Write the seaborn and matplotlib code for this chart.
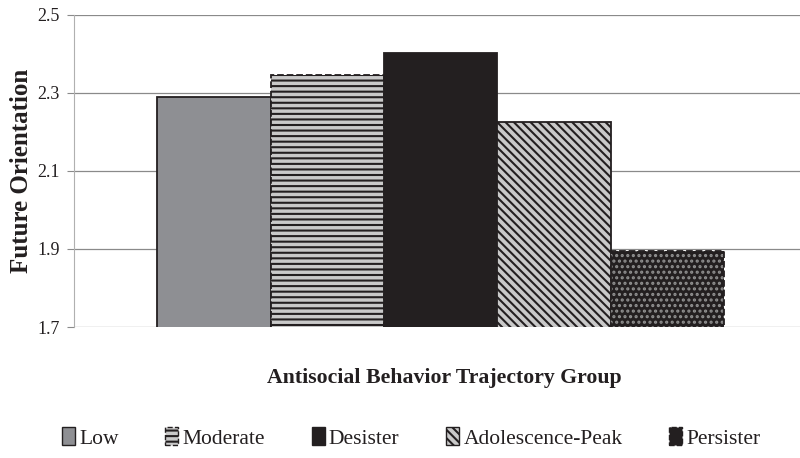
import matplotlib
matplotlib.use("Agg")
import matplotlib.pyplot as plt
import matplotlib.patches as mpatches
import pandas as pd
import seaborn as sns

# values
groups = ["Low", "Moderate", "Desister", "Adolescence-Peak", "Persister"]
scores = [2.29, 2.345, 2.402, 2.226, 1.895]

fills = ["#8e8f93", "#c9c9c9", "#231f20", "#c9c9c9", "#231f20"]
hatches = ["", "---", "", "\\\\\\\\", "..."]
edge_styles = ["-", "--", "-", "-", "--"]

df = pd.DataFrame({"grp": ["all"] * len(groups), "group": groups, "score": scores})

sns.set_style("white")
plt.rcParams["font.family"] = ["Liberation Serif", "DejaVu Serif"]
plt.rcParams["hatch.linewidth"] = 1.5

fig, ax = plt.subplots(figsize=(8, 4.58), dpi=100)
fig.subplots_adjust(left=0.092, right=1.0, top=0.968, bottom=0.286)

sns.barplot(data=df, x="grp", y="score", hue="group", hue_order=groups,
            palette=fills, width=0.78, saturation=1, legend=False, ax=ax)

# style each bar
for p, fc, h, ls in zip(ax.patches, fills, hatches, edge_styles):
    p.set_facecolor(fc)
    p.set_edgecolor("#231f20")
    p.set_linewidth(1.3)
    p.set_linestyle(ls)
    p.set_zorder(3)
    if h:
        p.set_hatch(h)

# persister: light dots on dark fill, dashed outline drawn on top
persister = ax.patches[4]
persister.set_edgecolor("#909090")
persister.set_linestyle("-")
persister.set_linewidth(0)
outline = mpatches.Rectangle(persister.get_xy(), persister.get_width(),
                             persister.get_height(), fill=False,
                             edgecolor="#231f20", linestyle="--", lw=1.3, zorder=4)
ax.add_patch(outline)

ax.set_ylim(1.7, 2.5)
ax.set_xlim(-0.5055, 0.4945)
ax.set_yticks([1.7, 1.9, 2.1, 2.3, 2.5])
ax.set_yticklabels(["1.7", "1.9", "2.1", "2.3", "2.5"], fontsize=13, color="#231f20")
ax.set_xticks([])
ax.yaxis.grid(True, color="#8a8a8a", lw=0.9)
ax.set_axisbelow(True)
for s in ["top", "right", "bottom"]:
    ax.spines[s].set_visible(False)
ax.spines["left"].set_color("#b0b0b0")
ax.tick_params(axis="y", length=5, color="#8a8a8a", left=True, pad=5)

ax.set_ylabel("Future Orientation", fontsize=18, fontweight="bold",
              color="#231f20", labelpad=3)
ax.set_xlabel("Antisocial Behavior Trajectory Group", fontsize=15.7,
              fontweight="bold", color="#231f20")
ax.xaxis.set_label_coords(0.511, -0.13)

handles = []
for fc, h, ls in zip(fills, hatches, edge_styles):
    handles.append(mpatches.Patch(facecolor=fc, edgecolor="#231f20", hatch=h,
                                  linestyle=ls, lw=1))
fig.legend(handles, groups, loc="lower center", bbox_to_anchor=(0.514, -0.022),
           ncol=5, frameon=False, fontsize=15.5, handlelength=0.6,
           handleheight=0.9, handletextpad=0.2, columnspacing=2.17,
           labelcolor="#231f20")

fig.savefig("out.png", dpi=100)
